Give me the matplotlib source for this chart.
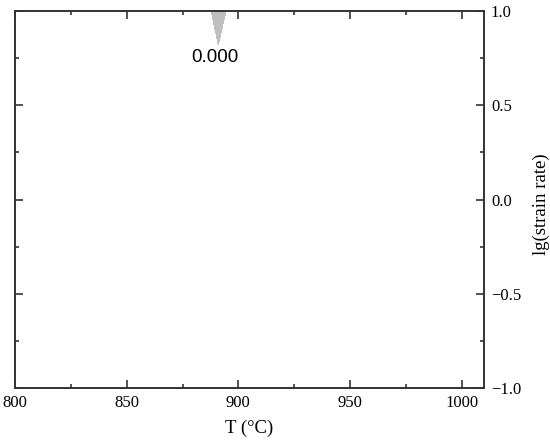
import numpy as np
import matplotlib
matplotlib.use("Agg")
import matplotlib.pyplot as plt
from matplotlib.ticker import MultipleLocator, FuncFormatter

# Grid of temperature (°C) and lg(strain rate), with instability parameter values
temps = [800, 850, 886, 891, 896, 950, 1010]
lg_rates = [-1.0, -0.5, 0.0, 0.5, 0.75, 1.0]
xi_values = [
    [0.9, 0.9, 0.9, 0.9, 0.9, 0.9, 0.9],
    [0.9, 0.9, 0.9, 0.9, 0.9, 0.9, 0.9],
    [0.9, 0.9, 0.9, 0.9, 0.9, 0.9, 0.9],
    [0.9, 0.9, 0.8, 0.8, 0.8, 0.9, 0.9],
    [0.9, 0.8, 0.6, 0.39, 0.6, 0.8, 0.9],
    [0.9, 0.8, 0.6, -1.0, 0.45, 0.8, 0.9],
]
contour_label = "0.000"
label_pos = (889.5, 0.755)

fig = plt.figure(figsize=(5.5, 4.44), dpi=100)
ax = fig.add_axes([0.0273, 0.126, 0.8527, 0.849])

X, Y = np.meshgrid(temps, lg_rates)
Z = np.array(xi_values)
ax.contourf(X, Y, Z, levels=[-10, 0], colors=["#bfbfbf"])
ax.text(label_pos[0], label_pos[1], contour_label, ha="center", va="center",
        fontsize=13.5, family="Liberation Sans", color="black")

ax.set_xlim(800, 1010)
ax.set_ylim(-1.0, 1.0)
ax.xaxis.set_major_locator(MultipleLocator(50))
ax.xaxis.set_minor_locator(MultipleLocator(25))
ax.yaxis.set_major_locator(MultipleLocator(0.5))
ax.yaxis.set_minor_locator(MultipleLocator(0.25))
ax.yaxis.set_major_formatter(FuncFormatter(lambda v, p: f"{v:.1f}".replace("-", "\u2212")))

ax.tick_params(which="both", direction="in", top=True, bottom=True, left=True, right=True,
               labelleft=False, labelright=True, color="#333333", width=1.2)
ax.tick_params(which="major", length=6, labelsize=12, pad=5)
ax.tick_params(which="minor", length=3)
for lab in ax.get_xticklabels() + ax.get_yticklabels():
    lab.set_family("Liberation Serif")
for sp in ax.spines.values():
    sp.set_linewidth(1.4)
    sp.set_color("#333333")

ax.set_xlabel("T (°C)", family="Liberation Serif", fontsize=13.5, labelpad=6)
fig.text(541 / 550, 1 - 204 / 444, "lg(strain rate)", rotation=90, ha="center", va="center",
         family="Liberation Serif", fontsize=13.5)

fig.savefig("out.png", dpi=100)
